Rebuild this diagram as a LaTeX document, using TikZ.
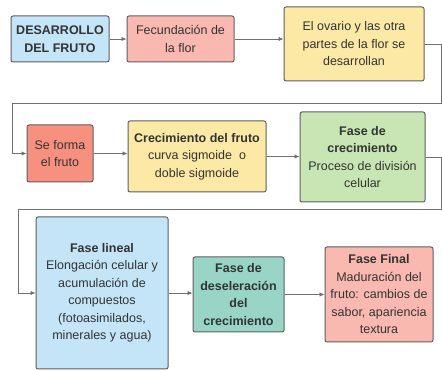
\documentclass[tikz,border=0pt]{standalone}
\usepackage{fontspec}
\setmainfont{Liberation Sans}
\usetikzlibrary{arrows.meta}
\definecolor{cblue}{HTML}{C4E4F7}
\definecolor{csalmon}{HTML}{F9B9B1}
\definecolor{cyellow}{HTML}{FDE9A6}
\definecolor{cred}{HTML}{F8907F}
\definecolor{cgreen}{HTML}{C7E6B3}
\definecolor{cteal}{HTML}{98D5C7}
\definecolor{cborder}{HTML}{5E5E5E}
\definecolor{cline}{HTML}{707070}
\definecolor{ctext}{HTML}{333333}
\tikzset{
  fbox/.style={draw=cborder, line width=1pt, rounded corners=2pt, inner sep=0pt,
    align=center, text=ctext, font=\fontsize{12.5}{17.5}\selectfont},
  flow/.style={draw=cline, line width=0.8pt, -{Latex[length=5pt,width=4.5pt]}},
}
\begin{document}
\begin{tikzpicture}[x=1pt,y=-1pt]
\useasboundingbox (0,0) rectangle (442,371);
\node[fbox, fill=cblue, minimum width=98, minimum height=46] (b1) at (60,39) {\textbf{DESARROLLO}\\\textbf{DEL FRUTO}};
\node[fbox, fill=csalmon, minimum width=107, minimum height=46] (b2) at (180.5,39) {Fecundación de\\la flor};
\node[fbox, fill=cyellow, minimum width=140, minimum height=74] (b3) at (354,44) {El ovario y las otra\\partes de la flor se\\desarrollan};
\node[fbox, fill=cred, minimum width=66, minimum height=57] (b4) at (60,153.5) {Se forma\\el fruto};
\node[fbox, fill=cyellow, minimum width=138, minimum height=71] (b5) at (197,156.5) {\textbf{Crecimiento del fruto}\\curva sigmoide\ \ o\\doble sigmoide};
\node[fbox, fill=cgreen, minimum width=125, minimum height=90] (b6) at (362.5,157) {\textbf{Fase de}\\\textbf{crecimiento}\\Proceso de división\\celular};
\node[fbox, fill=cblue, minimum width=132, minimum height=152] (b7) at (102,293) {\textbf{Fase lineal}\\Elongación celular y\\acumulación de\\compuestos\\(fotoasimilados,\\minerales y agua)};
\node[fbox, fill=cteal, minimum width=91, minimum height=75] (b8) at (238.5,294.5) {\textbf{Fase de}\\\textbf{deseleración}\\\textbf{del}\\\textbf{crecimiento}};
\node[fbox, fill=csalmon, minimum width=108, minimum height=95] (b9) at (379,294.5) {\textbf{Fase Final}\\Maduración del\\fruto: cambios de\\sabor, apariencia\\textura};
\coordinate (c1) at (441,44);
\coordinate (c2) at (441,103);
\coordinate (c3) at (12,103);
\coordinate (d1) at (441,157);
\coordinate (d2) at (441,209);
\coordinate (d3) at (18,209);
\draw[flow] (b1.east) -- (b2.west);
\draw[flow] (b2.east) -- (b3.west |- b2.east);
\draw[flow] (b3.east) -- (c1) -- (c2) -- (c3) |- (b4.west);
\draw[flow] (b4.east) -- (b5.west |- b4.east);
\draw[flow] (b5.east) -- (b6.west |- b5.east);
\draw[flow] (b6.east) -- (d1) -- (d2) -- (d3) |- (b7.west);
\draw[flow] (b7.east) -- (b8.west |- b7.east);
\draw[flow] (b8.east) -- (b9.west |- b8.east);
\end{tikzpicture}
\end{document}
